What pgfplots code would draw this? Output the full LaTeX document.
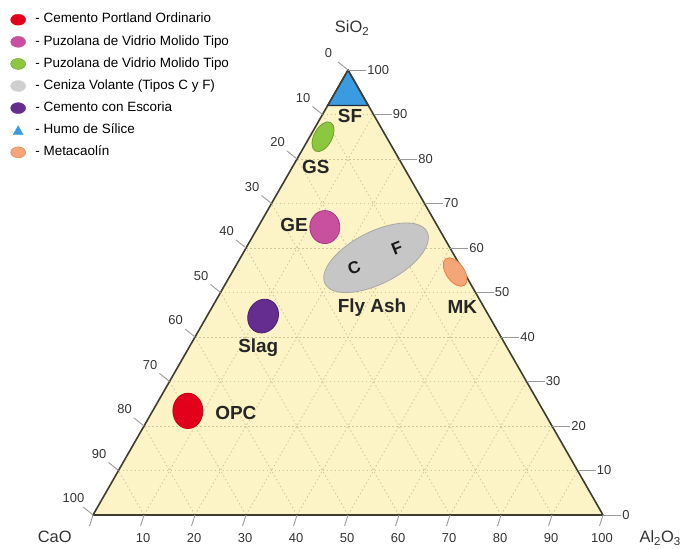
\documentclass[border=0pt]{standalone}
\usepackage{pgfplots}
\pgfplotsset{compat=1.18}
\usepackage{fontspec}
\setmainfont{Liberation Sans}

\definecolor{tfill}{HTML}{FCF3C6}
\definecolor{tedge}{HTML}{3E3D30}
\definecolor{gridc}{HTML}{CFC79C}
\definecolor{tickc}{HTML}{9A9A9A}
\definecolor{labc}{HTML}{333333}
\definecolor{opc}{HTML}{E3001B}
\definecolor{opcd}{HTML}{C40016}
\definecolor{ge}{HTML}{C8509E}
\definecolor{ged}{HTML}{A83A85}
\definecolor{gs}{HTML}{8DC63F}
\definecolor{gsd}{HTML}{6E9F2C}
\definecolor{fa}{HTML}{C6C6C6}
\definecolor{fad}{HTML}{A8A8A8}
\definecolor{slag}{HTML}{662D91}
\definecolor{slagd}{HTML}{4A1E6E}
\definecolor{sf}{HTML}{3A9BE0}
\definecolor{sfd}{HTML}{1E2E40}
\definecolor{mk}{HTML}{F5A679}
\definecolor{mkd}{HTML}{E8803C}

\tikzset{
  tickfont/.style={font=\fontsize{13}{14}\selectfont, text=labc, inner sep=0pt},
  matlab/.style={font=\bfseries\fontsize{19}{20}\selectfont, text=black!85},
  gridline/.style={gridc, dash pattern=on 1.5bp off 2.5bp, line width=0.8bp},
}

\begin{document}
\begin{tikzpicture}
\begin{axis}[
    x=5.1bp, y=4.45bp,
    xmin=-18.24, xmax=116.86,
    ymin=-7.42, ymax=115.73,
    hide axis, clip=false,
    legend cell align=left,
    legend style={at={(0.0152,0.9754)}, anchor=north west, draw=none, fill=none,
      inner sep=0pt, outer sep=0pt,
      font=\fontsize{13.5}{15}\selectfont, row sep=9.6bp,
      nodes={inner sep=0pt, text height=9.5bp, text depth=3bp},
      /tikz/every odd column/.append style={column sep=9.5bp}},
  ]
  \path (rel axis cs:0,0) rectangle (rel axis cs:1,1);

  % triangle background (x = Al2O3 + SiO2/2, y = SiO2)
  \addplot[fill=tfill, draw=none, forget plot] coordinates {(0,0) (100,0) (50,100)} --cycle;

  % 10 % grid
  \pgfplotsinvokeforeach{10,20,...,90}{
    \draw[gridline] (axis cs:{#1/2},{#1}) -- (axis cs:{100-#1/2},{#1});
    \draw[gridline] (axis cs:{#1},0) -- (axis cs:{50+#1/2},{100-#1});
    \draw[gridline] (axis cs:{100-#1},0) -- (axis cs:{50-#1/2},{100-#1});
  }

  % silica fume cap
  \addplot[fill=sf, draw=sfd, line width=1.2bp, forget plot] coordinates {(50,100) (46,92) (54,92)} --cycle;

  % outline
  \addplot[draw=tedge, line width=1.6bp, line join=round, forget plot] coordinates {(0,0) (100,0) (50,100)} --cycle;

  % ticks: SiO2 right, CaO left, Al2O3 bottom
  \pgfplotsinvokeforeach{0,10,...,100}{
    \draw[tickc, line width=0.9bp] (axis cs:{100-#1/2},{#1}) -- ++(18bp,0bp)
      node[tickfont, anchor=west, xshift=1bp] {#1};
    \draw[tickc, line width=0.9bp] (axis cs:{(100-#1)/2},{100-#1}) -- ++(-10bp,8bp)
      ++(-9.5bp,8.5bp) node[tickfont] {#1};
    \draw[tickc, line width=0.9bp] (axis cs:{#1},0) -- ++(-3.5bp,-11bp);
  }
  \pgfplotsinvokeforeach{10,20,...,100}{
    \node[tickfont] at ([shift={(-1bp,-23bp)}]axis cs:{#1},0) {#1};
  }

  % corner labels
  \node[font=\fontsize{16.5}{17}\selectfont, text=labc] at (axis cs:50.8,109.4) {SiO\textsubscript{2}};
  \node[font=\fontsize{16.5}{17}\selectfont, text=labc] at (axis cs:-7.5,-4.9) {CaO};
  \node[font=\fontsize{16.5}{17}\selectfont, text=labc] at (axis cs:111.2,-5.2) {Al\textsubscript{2}O\textsubscript{3}};

  % material fields (compositions CaO / Al2O3 / SiO2 in %)
  \addplot[only marks, mark=*, mark size=15bp, forget plot,
    mark options={rotate=90, xscale=1.18, fill=opc, draw=opcd, line width=0.8bp}]
    table[row sep=\\, x expr=\thisrow{Al}+0.5*\thisrow{Si}, y=Si]
    {Ca Al Si\\ 69.7 6.9 23.4\\};
  \addplot[only marks, mark=*, mark size=15bp, forget plot,
    mark options={rotate=65, xscale=1.15, fill=slag, draw=slagd, line width=0.8bp}]
    table[row sep=\\, x expr=\thisrow{Al}+0.5*\thisrow{Si}, y=Si]
    {Ca Al Si\\ 44.3 11.0 44.7\\};
  \addplot[only marks, mark=*, mark size=15bp, forget plot,
    mark options={rotate=90, xscale=1.1, fill=ge, draw=ged, line width=0.8bp}]
    table[row sep=\\, x expr=\thisrow{Al}+0.5*\thisrow{Si}, y=Si]
    {Ca Al Si\\ 22.2 13.1 64.7\\};
  \addplot[only marks, mark=*, mark size=9bp, forget plot,
    mark options={rotate=62, xscale=1.8, fill=gs, draw=gsd, line width=0.8bp}]
    table[row sep=\\, x expr=\thisrow{Al}+0.5*\thisrow{Si}, y=Si]
    {Ca Al Si\\ 12.4 2.6 85.0\\};
  \addplot[only marks, mark=*, mark size=26bp, forget plot,
    mark options={rotate=27, xscale=2.2, fill=fa, draw=fad, line width=0.8bp}]
    table[row sep=\\, x expr=\thisrow{Al}+0.5*\thisrow{Si}, y=Si]
    {Ca Al Si\\ 15.6 26.6 57.8\\};
  \addplot[only marks, mark=*, mark size=9bp, forget plot,
    mark options={rotate=-55, xscale=1.8, fill=mk, draw=mkd, line width=0.8bp}]
    table[row sep=\\, x expr=\thisrow{Al}+0.5*\thisrow{Si}, y=Si]
    {Ca Al Si\\ 1.7 43.7 54.6\\};

  % field labels
  \node[matlab] at (axis cs:50.4,89.7) {SF};
  \node[matlab] at (axis cs:43.7,78.2) {GS};
  \node[matlab] at (axis cs:39.4,65.2) {GE};
  \coordinate (lc) at (axis cs:51.2,55.5);
  \coordinate (lf) at (axis cs:59.6,60.0);
  \node[matlab] at (axis cs:54.7,46.7) {Fly Ash};
  \node[matlab] at (axis cs:72.4,46.7) {MK};
  \node[matlab] at (axis cs:32.4,37.5) {Slag};
  \node[matlab] at (axis cs:28.0,22.9) {OPC};

  % legend
  \addlegendimage{legend image code/.code={\draw[fill=opc, draw=opc] (0,0) ellipse [x radius=7.5bp, y radius=5.5bp];}}
  \addlegendentry{- Cemento Portland Ordinario}
  \addlegendimage{legend image code/.code={\draw[fill=ge, draw=ge] (0,0) ellipse [x radius=7.5bp, y radius=5.5bp];}}
  \addlegendentry{- Puzolana de Vidrio Molido Tipo}
  \addlegendimage{legend image code/.code={\draw[fill=gs, draw=gsd] (0,0) ellipse [x radius=7.5bp, y radius=5.5bp];}}
  \addlegendentry{- Puzolana de Vidrio Molido Tipo}
  \addlegendimage{legend image code/.code={\draw[fill=fa!85, draw=fa!85] (0,0) ellipse [x radius=7.5bp, y radius=5.5bp];}}
  \addlegendentry{- Ceniza Volante (Tipos C y F)}
  \addlegendimage{legend image code/.code={\draw[fill=slag, draw=slag] (0,0) ellipse [x radius=7.5bp, y radius=5.5bp];}}
  \addlegendentry{- Cemento con Escoria}
  \addlegendimage{legend image code/.code={\draw[fill=sf, draw=sf] (-5bp,-4.5bp) -- (5bp,-4.5bp) -- (0,4.5bp) -- cycle;}}
  \addlegendentry{- Humo de Sílice}
  \addlegendimage{legend image code/.code={\draw[fill=mk, draw=mkd] (0,0) ellipse [x radius=7.5bp, y radius=5.5bp];}}
  \addlegendentry{- Metacaolín}
\end{axis}
\node[font=\bfseries\fontsize{17}{18}\selectfont, text=black!90, rotate=22] at (lc) {C};
\node[font=\bfseries\fontsize{17}{18}\selectfont, text=black!90, rotate=22] at (lf) {F};
\end{tikzpicture}
\end{document}
